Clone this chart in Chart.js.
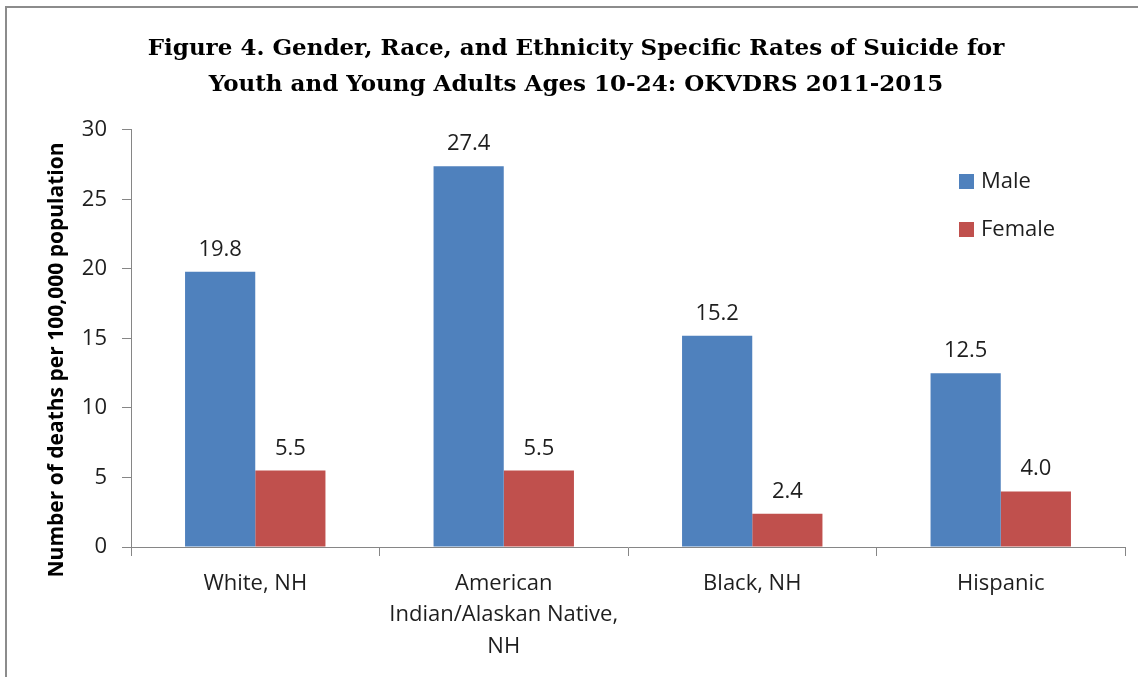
<!DOCTYPE html>
<html>
<head>
<meta charset="utf-8">
<script src="https://cdn.jsdelivr.net/npm/chart.js@4/dist/chart.umd.min.js"></script>
<style>
  html, body { margin: 0; padding: 0; background: #fff; overflow: hidden; }
  #wrap { position: relative; width: 1138px; height: 677px; }
  #frame { position: absolute; left: 5px; top: 6px; width: 1200px; height: 700px;
           border-left: 2px solid #8c8c8c; border-top: 2px solid #8c8c8c; pointer-events: none; }
  canvas { position: absolute; left: 0; top: 0; }
</style>
</head>
<body>
<div id="wrap">
  <canvas id="c" width="1138" height="677"></canvas>
  <div id="frame"></div>
</div>
<script>
const titleLines = [
  'Figure 4. Gender, Race, and Ethnicity Specific Rates of Suicide for',
  'Youth and Young Adults Ages 10-24: OKVDRS 2011-2015'
];
const categories = [
  'White, NH',
  ['American', 'Indian/Alaskan Native,', 'NH'],
  'Black, NH',
  'Hispanic'
];
const maleValues = [19.8, 27.4, 15.2, 12.5];
const femaleValues = [5.5, 5.5, 2.4, 4.0];
const seriesNames = ['Male', 'Female'];
const yTicks = [0, 5, 10, 15, 20, 25, 30];
const yAxisTitle = 'Number of deaths per 100,000 population';

const MALE = '#4F81BD';
const FEMALE = '#C0504D';
const TEXT = '#1e1e1e';
const AXIS = '#868686';
const SANS = '"Open Sans", sans-serif';

const dataLabels = {
  id: 'dataLabels',
  afterDatasetsDraw(chart) {
    const ctx = chart.ctx;
    ctx.save();
    ctx.font = '22px ' + SANS;
    ctx.fillStyle = TEXT;
    ctx.textAlign = 'center';
    ctx.textBaseline = 'alphabetic';
    chart.data.datasets.forEach((ds, i) => {
      const meta = chart.getDatasetMeta(i);
      meta.data.forEach((el, j) => {
        ctx.fillText(ds.data[j].toFixed(1), el.x, el.y - 16);
      });
    });
    ctx.restore();
  }
};

const sideLegend = {
  id: 'sideLegend',
  afterDraw(chart) {
    const ctx = chart.ctx;
    ctx.save();
    ctx.font = '22px ' + SANS;
    ctx.textBaseline = 'middle';
    ctx.textAlign = 'left';
    chart.data.datasets.forEach((ds, i) => {
      const y = 182 + i * 48;
      ctx.fillStyle = ds.backgroundColor;
      ctx.fillRect(959, y - 8, 15, 15);
      ctx.fillStyle = TEXT;
      ctx.fillText(ds.label, 981, y);
    });
    ctx.restore();
  }
};

const yTitlePlugin = {
  id: 'yTitle',
  afterDraw(chart) {
    const ctx = chart.ctx;
    ctx.save();
    ctx.translate(57, 360);
    ctx.rotate(-Math.PI / 2);
    ctx.font = 'bold 21px ' + SANS;
    ctx.fillStyle = '#000';
    ctx.textAlign = 'center';
    ctx.textBaseline = 'middle';
    ctx.fillText(yAxisTitle, 0, 0);
    ctx.restore();
  }
};

new Chart(document.getElementById('c'), {
  type: 'bar',
  data: {
    labels: categories,
    datasets: [
      { label: seriesNames[0], data: maleValues, backgroundColor: MALE,
        barPercentage: 1.0, categoryPercentage: 0.565 },
      { label: seriesNames[1], data: femaleValues, backgroundColor: FEMALE,
        barPercentage: 1.0, categoryPercentage: 0.565 }
    ]
  },
  options: {
    responsive: false,
    animation: false,
    devicePixelRatio: 1,
    layout: { padding: { left: 27, right: 13, top: 0, bottom: 0 } },
    plugins: {
      legend: { display: false },
      tooltip: { enabled: false },
      title: {
        display: true,
        text: titleLines,
        color: '#000',
        font: { family: '"DejaVu Serif", serif', size: 23, weight: 'bold', lineHeight: 1.565 },
        padding: { top: 31, bottom: 27 }
      }
    },
    scales: {
      x: {
        grid: { display: true, drawOnChartArea: false, drawTicks: true, tickLength: 9, color: AXIS, offset: true },
        border: { display: true, color: AXIS, width: 1 },
        ticks: { color: TEXT, font: { family: SANS, size: 22, lineHeight: 1.43 }, padding: 12, maxRotation: 0, autoSkip: false },
        afterFit(s) { s.height = 130; }
      },
      y: {
        min: 0, max: 30,
        afterBuildTicks(s) { s.ticks = yTicks.map(v => ({ value: v })); },
        grid: { display: true, drawOnChartArea: false, drawTicks: true, tickLength: 9, color: AXIS },
        border: { display: true, color: AXIS, width: 1 },
        ticks: { color: TEXT, font: { family: SANS, size: 22 }, padding: 15 },
        afterFit(s) { s.width = 104; }
      }
    }
  },
  plugins: [dataLabels, sideLegend, yTitlePlugin]
});
</script>
</body>
</html>
